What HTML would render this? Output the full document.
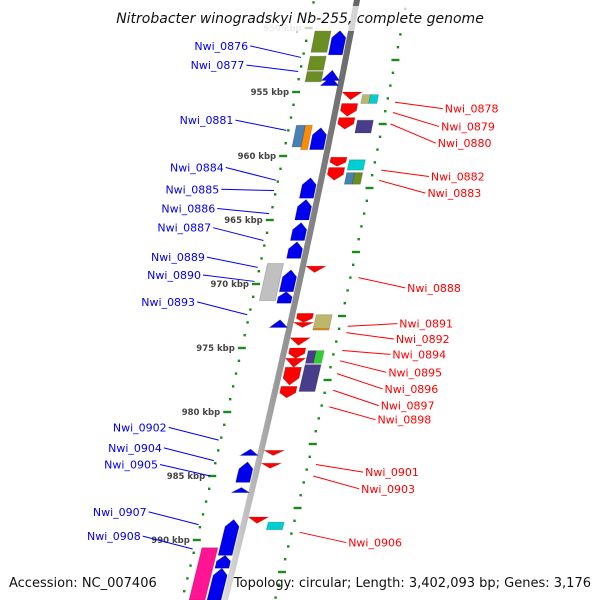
<!DOCTYPE html>
<html><head><meta charset="utf-8"><style>
html,body{margin:0;padding:0;background:#fff;}
svg{display:block;font-family:"DejaVu Sans","Liberation Sans",sans-serif;}
</style></head><body>
<svg id="map" width="600" height="600" viewBox="0 0 600 600" xmlns="http://www.w3.org/2000/svg">
<defs>
<linearGradient id="bb" x1="0" x2="1" y1="0" y2="0"><stop offset="0" stop-color="#ddd"/><stop offset="0.4" stop-color="#999"/><stop offset="1" stop-color="#666"/></linearGradient>
</defs>
<g id="ticks"></g>
<path id="backbone" fill="none" stroke="url(#bb)" stroke-width="6"/>
<g id="genes"></g>
<g id="labels"></g>
<rect x="113" y="6" width="374" height="25" fill="#fff" fill-opacity="0.72"/>
<text x="300" y="23" text-anchor="middle" font-size="14" font-style="italic" fill="#111">Nitrobacter winogradskyi Nb-255, complete genome</text>
<text x="9" y="587" font-size="13" fill="#111">Accession: NC_007406</text>
<text x="591" y="587" text-anchor="end" font-size="13" fill="#111">Topology: circular; Length: 3,402,093 bp; Genes: 3,176</text>
</svg>
<script>
// data
const tickKbp=[945,946,947,948,949,950,951,952,953,954,955,956,957,958,959,960,961,962,963,964,965,966,967,968,969,970,971,972,973,974,975,976,977,978,979,980,981,982,983,984,985,986,987,988,989,990,991,992,993,994,995];
const majorKbp=[950,955,960,965,970,975,980,985,990];
const majorLabels=["950 kbp","955 kbp","960 kbp","965 kbp","970 kbp","975 kbp","980 kbp","985 kbp","990 kbp"];
// genes: start kbp, end kbp, lane, kind, color
const geneStart=[950.2,953.3,953.8,950.2,952.2,953.4,957.6,957.6,957.8,961.7,963.4,965.2,966.7,968.4,968.9,970.6,972.8,982.9,983.9,985.9,988.4,991.2,992.2,990.6,
 955.0,955.2,955.2,955.9,957.0,957.2,960.1,960.9,960.3,961.3,961.3,968.6,972.3,973.0,972.4,973.5,974.2,975.0,975.8,976.5,978.0,975.2,975.2,976.3,983.0,984.0,988.2,988.6];
const geneEnd=[952.1,954.1,954.5,951.9,953.3,954.2,959.5,959.3,959.5,963.3,965.0,966.6,968.0,971.3,970.6,971.5,973.4,983.4,985.5,986.3,991.2,992.2,994.7,994.7,
 955.6,955.9,955.9,956.9,957.9,958.2,960.8,961.9,961.1,962.2,962.2,969.1,973.0,973.4,973.5,973.6,974.8,975.8,976.5,977.9,978.9,976.2,976.2,978.4,983.4,984.4,988.7,989.2];
const geneLane=["bl","bl","bl","ol","ol","ol","ol","ol2","bl","bl","bl","bl","bl","ol","bl","bl","bl","bl","bl","bl","bl","bl","bl","ol",
 "rd","rb","rb2","rd","rd","rb","rd","rd","rb","rb","rb2","rd","rd","rd","rb","rb","rd","rd","rd","rd","rd","rb","rb2","rb","rd","rd","rd","rb"];
const geneKind=["arrow","tri","tri","box","box","box","box","box","arrow","arrow","arrow","arrow","arrow","box","arrow","arrow","tri","tri","arrow","tri","arrow","arrow","arrow","box",
 "tri","box","box","arrow","arrow","box","arrow","arrow","box","box","box","tri","arrow","tri","box","box","tri","arrow","tri","arrow","arrow","box","box","box","tri","tri","tri","box"];
const geneColor=["#0000ee","#0000ee","#0000ee","#6b8e23","#6b8e23","#6b8e23","#ff8c00","#4682b4","#0000ee","#0000ee","#0000ee","#0000ee","#0000ee","#c0c0c0","#0000ee","#0000ee","#0000ee","#0000ee","#0000ee","#0000ee","#0000ee","#0000ee","#0000ee","#ff1493",
 "#ff0000","#bdb76b","#00ced1","#ff0000","#ff0000","#483d8b","#ff0000","#ff0000","#00ced1","#4682b4","#6b8e23","#ff0000","#ff0000","#ff0000","#bdb76b","#ff8c00","#ff0000","#ff0000","#ff0000","#ff0000","#ff0000","#483d8b","#32cd32","#483d8b","#ff0000","#ff0000","#ff0000","#00ced1"];
const blueNames=["Nwi_0876","Nwi_0877","Nwi_0881","Nwi_0884","Nwi_0885","Nwi_0886","Nwi_0887","Nwi_0889","Nwi_0890","Nwi_0893","Nwi_0902","Nwi_0904","Nwi_0905","Nwi_0907","Nwi_0908"];
const blueLabelKbp=[951.4,952.9,957.2,960.9,962.6,964.1,965.6,967.9,969.3,971.4,981.2,982.8,984.1,987.8,989.7];
const blueTargetKbp=[952.3,953.4,958.0,961.9,962.7,964.5,966.6,968.7,969.8,972.4,982.2,983.8,985.0,988.8,990.7];
const redNames=["Nwi_0878","Nwi_0879","Nwi_0880","Nwi_0882","Nwi_0883","Nwi_0888","Nwi_0891","Nwi_0892","Nwi_0894","Nwi_0895","Nwi_0896","Nwi_0897","Nwi_0898","Nwi_0901","Nwi_0903","Nwi_0906"];
const redLabelKbp=[956.3,957.7,959.0,961.6,962.9,970.3,973.1,974.3,975.5,976.9,978.2,979.5,980.6,984.7,986.0,990.2];
const redTargetKbp=[955.8,956.6,957.5,961.1,961.9,969.5,973.3,973.8,975.2,976.0,977.0,978.3,979.6,984.1,985.0,989.4];

const NS="http://www.w3.org/2000/svg";
function yOf(k){return 28+(k-950)*12.8;}
function bx(y){return 357-0.19*y-0.00005*y*y;}
function el(tag,attrs,parent){const e=document.createElementNS(NS,tag);for(const a in attrs)e.setAttribute(a,attrs[a]);parent.appendChild(e);return e;}

let d="";for(let y=-5;y<=605;y+=5){d+=(y===-5?"M":"L")+bx(y).toFixed(1)+","+y;}
document.getElementById("backbone").setAttribute("d",d);

const tg=document.getElementById("ticks");
tickKbp.forEach(k=>{
  const y=yOf(k);
  const major=majorKbp.includes(k);
  const lx=bx(y)-43;
  const yr=yOf(k+0.5);
  const rxx=bx(yr)+50;
  const t1=el("rect",{x:major?lx-4:lx-1.2,y:y-1.2,width:major?8:2.4,height:2.4,fill:"#1a8a1a"},tg);
  
  
  const rMajor=((k-950)%5===2);
  const t2=el("rect",{x:rMajor?rxx-4:rxx-1.2,y:yr-1.2,width:rMajor?8:2.4,height:2.4,fill:"#1a8a1a"},tg);
  
  
});
majorKbp.forEach((k,i)=>{
  const y=yOf(k);
  const t=el("text",{x:bx(y)-50,y:y+3,"text-anchor":"end","font-size":"8.5","font-weight":"bold",fill:k===950?"#bbb":"#444"},tg);
  t.textContent=majorLabels[i];
  
  
});

const laneOff={bl:[-4,-18],ol:[-20,-36],ol2:[-27,-36],rd:[5,21],rb:[24,40],rb2:[32,40]};
const gg=document.getElementById("genes");
geneStart.forEach((s,i)=>{
  const y1=yOf(s), y2=yOf(geneEnd[i]);
  let [o1,o2]=laneOff[geneLane[i]];
  if(geneLane[i]==="rb"&&geneLane[i+1]==="rb2"){o2=32;}
  if(geneLane[i]==="ol"&&geneLane[i+1]==="ol2"){o2=-27;}
  const kind=geneKind[i], up=geneLane[i][0]!=="r";
  const inner=Math.min(o1,o2), outer=Math.max(o1,o2);
  let pts;
  const L=(y,o)=>[bx(y)+o,y];
  if(kind==="box"){
    pts=[L(y1,inner),L(y1,outer),L(y2,outer),L(y2,inner)];
  } else if(kind==="tri"){
    const m=(inner+outer)/2;
    if(up) pts=[L(y1,m),L(y2,outer+2),L(y2,inner-2)];
    else pts=[L(y2,m),L(y1,outer+2),L(y1,inner-2)];
  } else {
    const h=Math.min(7,(y2-y1)*0.45), m=(inner+outer)/2;
    if(up) pts=[L(y1,m),L(y1+h,outer),L(y2,outer),L(y2,inner),L(y1+h,inner)];
    else pts=[L(y2,m),L(y2-h,outer),L(y1,outer),L(y1,inner),L(y2-h,inner)];
  }
  const p=el("polygon",{points:pts.map(q=>q[0].toFixed(1)+","+q[1].toFixed(1)).join(" "),fill:geneColor[i],stroke:"rgba(0,0,0,0.2)","stroke-width":"0.8"},gg);
  
  
});

const lg=document.getElementById("labels");
blueNames.forEach((n,i)=>{
  const ly=yOf(blueLabelKbp[i]), ty=yOf(blueTargetKbp[i]);
  const tx=bx(ty)-45, lx=bx(ly)-100;
  const ln=el("line",{x1:lx+2,y1:ly,x2:tx,y2:ty,stroke:"#0000ee","stroke-width":"1"},lg);
  
  
  const t=el("text",{x:lx,y:ly+4,"text-anchor":"end","font-size":"11",fill:"#0000ee"},lg);
  t.textContent=n;
  
  
});
redNames.forEach((n,i)=>{
  const ly=yOf(redLabelKbp[i]), ty=yOf(redTargetKbp[i]);
  const tx=bx(ty)+58, lx=bx(ly)+109;
  const ln=el("line",{x1:tx,y1:ty,x2:lx-2,y2:ly,stroke:"#ff0000","stroke-width":"1"},lg);
  
  
  const t=el("text",{x:lx,y:ly+4,"font-size":"11",fill:"#ff0000"},lg);
  t.textContent=n;
  
  
});
</script>
</body></html>
